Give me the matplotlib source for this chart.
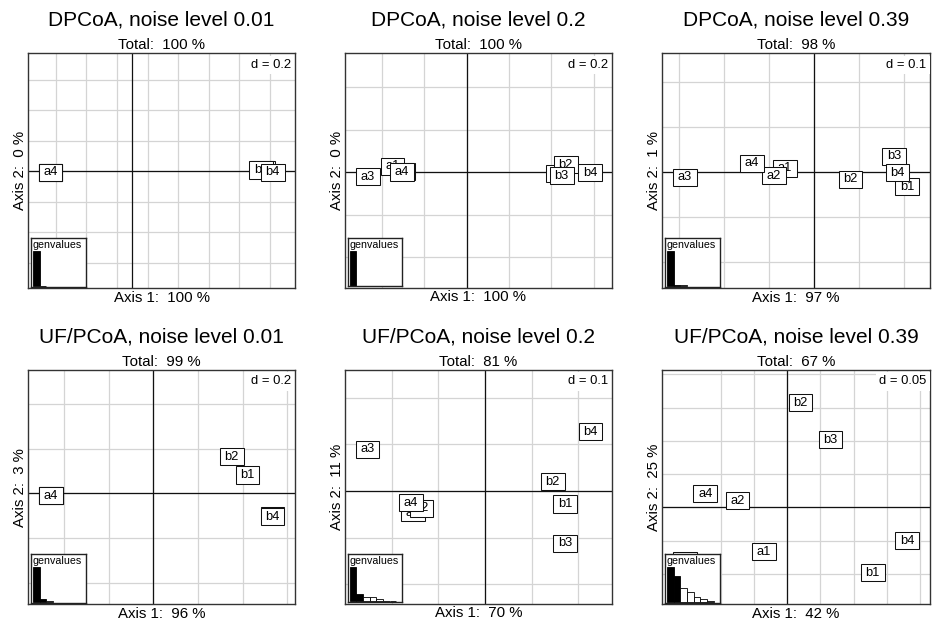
import numpy as np
import matplotlib
matplotlib.use("Agg")
import matplotlib.pyplot as plt
from matplotlib.path import Path

plt.rcParams['font.family'] = ['Liberation Sans', 'DejaVu Sans']

# ------------------------------------------------------------------ data
titles = ["DPCoA, noise level 0.01", "DPCoA, noise level 0.2", "DPCoA, noise level 0.39",
          "UF/PCoA, noise level 0.01", "UF/PCoA, noise level 0.2", "UF/PCoA, noise level 0.39"]
total_pct = [100, 100, 98, 99, 81, 67]
axis1_pct = [100, 100, 97, 96, 70, 42]
axis2_pct = [0, 0, 1, 3, 11, 25]
grid_d = [0.2, 0.2, 0.1, 0.2, 0.1, 0.05]

labels = ["a1", "a2", "a3", "a4", "b1", "b2", "b3", "b4"]

x_p1 = [-0.535, -0.535, -0.534, -0.535, 0.848, 0.852, 0.840, 0.918]
y_p1 = [-0.012, -0.011, -0.012, -0.008, 0.012, 0.010, 0.007, -0.008]

x_p2 = [-0.350, -0.302, -0.466, -0.307, 0.431, 0.468, 0.449, 0.582]
y_p2 = [0.028, 0.004, -0.022, 0.000, -0.008, 0.034, -0.017, -0.004]

x_p3 = [-0.066, -0.090, -0.288, -0.139, 0.206, 0.080, 0.177, 0.185]
y_p3 = [0.0075, -0.009, -0.0124, 0.0187, -0.033, -0.0166, 0.0345, -0.002]

x_p4 = [-0.459, -0.459, -0.459, -0.459, 0.422, 0.351, 0.534, 0.534]
y_p4 = [-0.010, -0.010, -0.010, -0.010, 0.082, 0.164, -0.098, -0.105]

x_p5 = [-0.155, -0.136, -0.252, -0.159, 0.172, 0.145, 0.171, 0.226]
y_p5 = [-0.0465, -0.0375, 0.0896, -0.0253, -0.028, 0.020, -0.112, 0.1264]

x_p6 = [-0.0348, -0.075, -0.154, -0.1234, 0.1287, 0.0199, 0.065, 0.180]
y_p6 = [-0.067, 0.0098, -0.080, 0.0203, -0.0986, 0.1577, 0.1016, -0.050]

# eigenvalue screeplots (relative heights)
eig_p1 = [1.0, 0.0]
eig_p2 = [1.0, 0.0]
eig_p3 = [1.0, 0.025, 0.02]
eig_p4 = [1.0, 0.08, 0.02]
eig_p5 = [1.0, 0.215, 0.128, 0.128, 0.070, 0.023, 0.015]
eig_p6 = [1.0, 0.756, 0.390, 0.291, 0.145, 0.070, 0.020]

xs = [x_p1, x_p2, x_p3, x_p4, x_p5, x_p6]
ys = [y_p1, y_p2, y_p3, y_p4, y_p5, y_p6]
eigs = [eig_p1, eig_p2, eig_p3, eig_p4, eig_p5, eig_p6]

# ------------------------------------------------------------------ layout
W, H = 934, 629
DPI = 100

# panel boxes in pixels: left, top, right, bottom
boxes = [(28.3, 53.3, 294.7, 288.3), (345.0, 53.3, 611.7, 288.0), (662.3, 53.3, 930.0, 288.3),
         (28.3, 370.0, 294.7, 604.3), (345.0, 370.0, 611.7, 603.7), (662.3, 370.0, 930.0, 604.3)]
xlims = [(-0.680, 1.061), (-0.575, 0.685), (-0.338, 0.257),
         (-0.560, 0.633), (-0.300, 0.2715), (-0.188, 0.2148)]
ylims = [(-0.769, 0.772), (-0.546, 0.559), (-0.259, 0.263),
         (-0.497, 0.552), (-0.2415, 0.259), (-0.146, 0.2067)]
grid_xoff = [0.1, 0, 0, 0, 0, 0]
grid_xfrom = [None, None, None, None, None, -0.1]


def fig_rect(l, t, r, b):
    return [l / W, 1 - b / H, (r - l) / W, (b - t) / H]


def label_box(x0, y0, width, height, mutation_size):
    px = 0.36 * mutation_size
    py = 0.2 * mutation_size
    x0 = x0 - px
    y0 = y0 - py
    x1 = x0 + width + 2 * px
    y1 = y0 + height + 2 * py
    return Path([(x0, y0), (x1, y0), (x1, y1), (x0, y1), (x0, y0)], closed=True)


fig = plt.figure(figsize=(W / DPI, H / DPI), dpi=DPI)
fig.patch.set_facecolor("white")

GRID_C = "#d4d4d4"

for i in range(6):
    l, t, r, b = boxes[i]
    ax = fig.add_axes(fig_rect(l, t, r, b))
    ax.set_xlim(*xlims[i])
    ax.set_ylim(*ylims[i])
    ax.set_xticks([])
    ax.set_yticks([])
    for s in ax.spines.values():
        s.set_color("#333333")
        s.set_linewidth(1.0)
    d = grid_d[i]
    # grid
    off = grid_xoff[i]
    x0 = np.ceil((xlims[i][0] - off) / d) * d + off
    if grid_xfrom[i] is not None:
        x0 = grid_xfrom[i]
    for gx in np.arange(x0, xlims[i][1], d):
        ax.axvline(gx, color=GRID_C, lw=0.9, zorder=0.5)
    y0 = np.ceil(ylims[i][0] / d) * d
    for gy in np.arange(y0, ylims[i][1], d):
        ax.axhline(gy, color=GRID_C, lw=0.9, zorder=0.5)
    # origin
    ax.axhline(0, color="#111111", lw=0.9, zorder=1)
    ax.axvline(0, color="#111111", lw=0.9, zorder=1)
    # labels
    for j, lab in enumerate(labels):
        ax.text(xs[i][j], ys[i][j], lab, ha="center", va="center", fontsize=9.3,
                zorder=3 + j,
                bbox=dict(boxstyle=label_box, fc="white", ec="#111111", lw=0.75))
    # d label
    ax.annotate("d = %g" % d, xy=(1, 1), xycoords="axes fraction",
                xytext=(-3.5, -5.5), textcoords="offset pixels",
                ha="right", va="top", fontsize=9.4, zorder=20,
                bbox=dict(boxstyle="square,pad=0.25", fc="white", ec="none"))

    cx = (l + r) / 2
    fig.text(cx / W, 1 - (26.0 + t - 53.3) / H, titles[i], ha="center", va="baseline",
             fontsize=15)
    fig.text(cx / W, 1 - (49.0 + t - 53.3) / H, "Total:  %d %%" % total_pct[i],
             ha="center", va="baseline", fontsize=10.8)
    fig.text(cx / W, 1 - (b + 13.4) / H, "Axis 1:  %d %%" % axis1_pct[i],
             ha="center", va="baseline", fontsize=10.8)
    fig.text((l - 8.3) / W, 1 - ((t + b) / 2) / H, "Axis 2:  %d %%" % axis2_pct[i],
             ha="center", va="center", rotation=90, fontsize=10.8)

    # genvalues inset
    iw, ih = 54.7, 48.4
    il = l + 2.7
    ib = b - 1.7
    iax = fig.add_axes(fig_rect(il, ib - ih, il + iw, ib))
    ev = eigs[i]
    cols = ["black" if k < 2 else "white" for k in range(len(ev))]
    iax.bar(np.arange(len(ev)), ev, width=1.0, align="edge", color=cols,
            edgecolor="black", linewidth=0.6)
    bw = 6.67
    iax.set_xlim(-2.0 / bw, -2.0 / bw + iw / bw)
    vmax = max(ev)
    hb = 34.7
    iax.set_ylim(-0.7 / hb * vmax, (ih - 0.7) / hb * vmax)
    iax.set_xticks([])
    iax.set_yticks([])
    for s in iax.spines.values():
        s.set_color("#222222")
        s.set_linewidth(1.0)
    iax.annotate("genvalues", xy=(0, 1), xycoords="axes fraction",
                 xytext=(1.7, -2.0), textcoords="offset pixels",
                 ha="left", va="top", fontsize=7.7)

fig.savefig("out.png", dpi=DPI)
